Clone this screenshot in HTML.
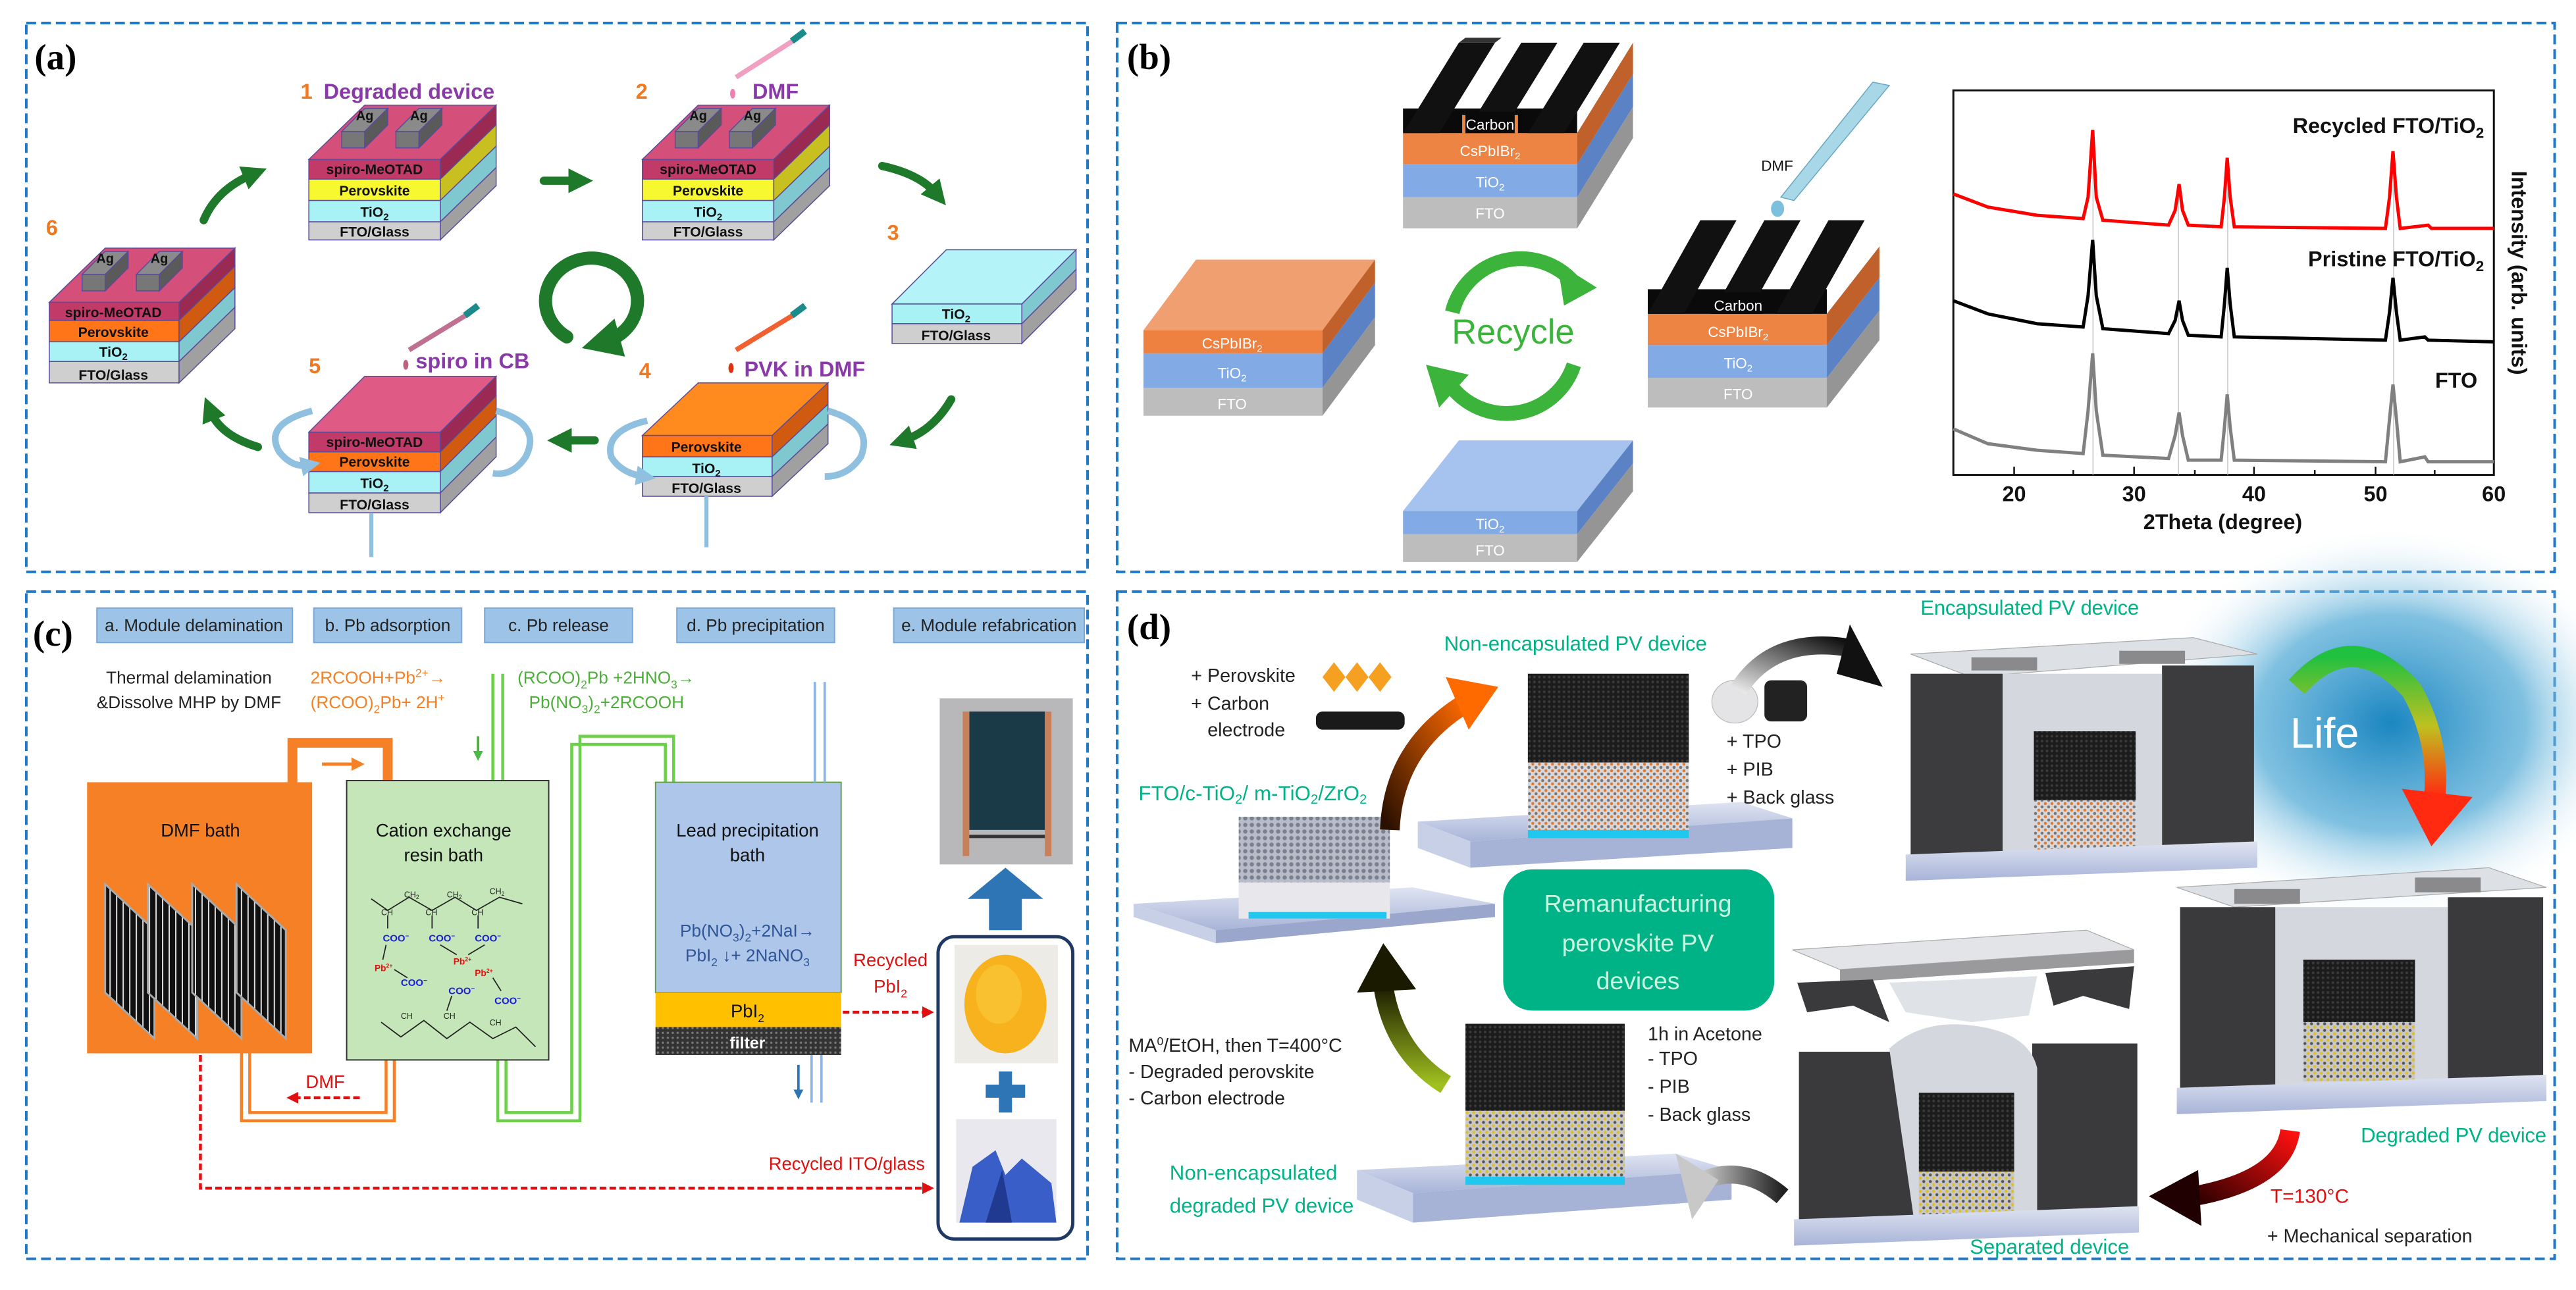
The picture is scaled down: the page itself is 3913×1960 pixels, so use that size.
<!DOCTYPE html>
<html><head><meta charset="utf-8"><style>
html,body{margin:0;padding:0;background:#fff;}
svg{display:block;}
text{font-family:"Liberation Sans",sans-serif;}
.sr{font-family:"Liberation Serif",serif;}
</style></head><body>
<svg width="3913" height="1960" viewBox="0 0 1568 785" preserveAspectRatio="none" xmlns="http://www.w3.org/2000/svg">
<defs>
<marker id="ga" markerWidth="3" markerHeight="3" refX="1.2" refY="1.5" orient="auto"><polygon points="0,0 3,1.5 0,3" fill="#1e7a2a"/></marker>
<marker id="ba" markerWidth="3" markerHeight="3" refX="1.2" refY="1.5" orient="auto"><polygon points="0,0 3,1.5 0,3" fill="#8fc0e0"/></marker>
<marker id="ra" markerWidth="4" markerHeight="4" refX="2" refY="2" orient="auto"><polygon points="0,0 4,2 0,4" fill="#e01010"/></marker>
<marker id="oa" markerWidth="4" markerHeight="4" refX="2" refY="2" orient="auto"><polygon points="0,0 4,2 0,4" fill="#f58025"/></marker>
<marker id="gra" markerWidth="4" markerHeight="4" refX="2" refY="2" orient="auto"><polygon points="0,0 4,2 0,4" fill="#4cb848"/></marker>
<marker id="bla" markerWidth="4" markerHeight="4" refX="2" refY="2" orient="auto"><polygon points="0,0 4,2 0,4" fill="#2e75b6"/></marker>
<radialGradient id="glow" cx="0.5" cy="0.5" r="0.5"><stop offset="0" stop-color="#1a86c0"/><stop offset="0.55" stop-color="#4aa6d4" stop-opacity="0.7"/><stop offset="1" stop-color="#ffffff" stop-opacity="0"/></radialGradient>
<linearGradient id="lifeg" x1="0" y1="0" x2="0" y2="1"><stop offset="0" stop-color="#20c040"/><stop offset="0.5" stop-color="#c0c020"/><stop offset="1" stop-color="#ff2a10"/></linearGradient>
<linearGradient id="orng" x1="0" y1="1" x2="1" y2="0"><stop offset="0" stop-color="#2a1000"/><stop offset="1" stop-color="#ff6a00"/></linearGradient>
<linearGradient id="redg" x1="1" y1="0" x2="0" y2="1"><stop offset="0" stop-color="#ff1010"/><stop offset="1" stop-color="#300000"/></linearGradient>
<linearGradient id="olvg" x1="0" y1="1" x2="0" y2="0"><stop offset="0" stop-color="#a0c020"/><stop offset="1" stop-color="#1a1a00"/></linearGradient>
<linearGradient id="gryg" x1="1" y1="0" x2="0" y2="0"><stop offset="0" stop-color="#202020"/><stop offset="1" stop-color="#e0e0e0"/></linearGradient>
<linearGradient id="blkg" x1="0" y1="1" x2="1" y2="0"><stop offset="0" stop-color="#e8e8e8"/><stop offset="1" stop-color="#101010"/></linearGradient>
<linearGradient id="slab" x1="0" y1="0" x2="0" y2="1"><stop offset="0" stop-color="#dfe4f2"/><stop offset="1" stop-color="#a8b4d8"/></linearGradient>
<pattern id="stripes" width="4" height="4" patternUnits="userSpaceOnUse"><rect width="4" height="4" fill="#111"/><rect x="2.6" width="0.8" height="4" fill="#ddd"/></pattern>
<pattern id="filt" width="3" height="3" patternUnits="userSpaceOnUse"><rect width="3" height="3" fill="#333"/><circle cx="1.5" cy="1.5" r="0.7" fill="#777"/></pattern>
<pattern id="blkdots" width="3" height="3" patternUnits="userSpaceOnUse"><rect width="3" height="3" fill="#1c1c1c"/><circle cx="1" cy="1" r="0.8" fill="#3a3a3a"/></pattern>
<pattern id="orgdots" width="4" height="4" patternUnits="userSpaceOnUse"><rect width="4" height="4" fill="#d8d8dc"/><circle cx="1" cy="1" r="0.9" fill="#e07a30"/><circle cx="3" cy="3" r="0.9" fill="#777"/></pattern>
<pattern id="ylwdots" width="4" height="4" patternUnits="userSpaceOnUse"><rect width="4" height="4" fill="#c8c8cc"/><circle cx="1" cy="1" r="0.9" fill="#e0c020"/><circle cx="3" cy="3" r="0.9" fill="#555"/></pattern>
<pattern id="grydots" width="4" height="4" patternUnits="userSpaceOnUse"><rect width="4" height="4" fill="#b8bcc8"/><circle cx="2" cy="2" r="1.3" fill="#7a8090"/></pattern>
</defs>

<!-- ============ PANEL BORDERS ============ -->
<g fill="none" stroke="#1f78c8" stroke-width="1.6" stroke-dasharray="6,3">
<rect x="16" y="14" width="646" height="334"/>
<rect x="680" y="14" width="875" height="334"/>
<rect x="16" y="360" width="646" height="406"/>
<rect x="680" y="360" width="875" height="406"/>
</g>

<!-- ============ PANEL A ============ -->
<text x="21" y="42" class="sr" font-size="22" font-weight="bold">(a)</text>
<g stroke="#5a4a9a" stroke-width="0.6">
<!-- Device 1 -->
<polygon points="188,97 268,97 302,64 222,64" fill="#d4507a"/>
<rect x="188" y="97" width="80" height="12" fill="#c23a68"/><rect x="188" y="109" width="80" height="13" fill="#f8f830"/><rect x="188" y="122" width="80" height="13" fill="#a8f2f6"/><rect x="188" y="135" width="80" height="11" fill="#cfcfcf"/>
<polygon points="268,97 302,64 302,76 268,109" fill="#9a2a52"/><polygon points="268,109 302,76 302,89 268,122" fill="#c8c020"/><polygon points="268,122 302,89 302,102 268,135" fill="#80c8d0"/><polygon points="268,135 302,102 302,113 268,146" fill="#a0a0a0"/>
<!-- Device 2 -->
<polygon points="391,97 471,97 505,64 425,64" fill="#d4507a"/>
<rect x="391" y="97" width="80" height="12" fill="#c23a68"/><rect x="391" y="109" width="80" height="13" fill="#f8f830"/><rect x="391" y="122" width="80" height="13" fill="#a8f2f6"/><rect x="391" y="135" width="80" height="11" fill="#cfcfcf"/>
<polygon points="471,97 505,64 505,76 471,109" fill="#9a2a52"/><polygon points="471,109 505,76 505,89 471,122" fill="#c8c020"/><polygon points="471,122 505,89 505,102 471,135" fill="#80c8d0"/><polygon points="471,135 505,102 505,113 471,146" fill="#a0a0a0"/>
<!-- Device 6 -->
<polygon points="30,184 109,184 143,151 64,151" fill="#d4507a"/>
<rect x="30" y="184" width="79" height="11" fill="#c23a68"/><rect x="30" y="195" width="79" height="13" fill="#ff7518"/><rect x="30" y="208" width="79" height="12" fill="#a8f2f6"/><rect x="30" y="220" width="79" height="13" fill="#cfcfcf"/>
<polygon points="109,184 143,151 143,162 109,195" fill="#9a2a52"/><polygon points="109,195 143,162 143,175 109,208" fill="#d05a10"/><polygon points="109,208 143,175 143,187 109,220" fill="#80c8d0"/><polygon points="109,220 143,187 143,200 109,233" fill="#a0a0a0"/>
<!-- Device 3 -->
<polygon points="543,185 622,185 655,152 576,152" fill="#b4f4f8"/>
<rect x="543" y="185" width="79" height="12" fill="#a8f2f6"/><rect x="543" y="197" width="79" height="12" fill="#cfcfcf"/>
<polygon points="622,185 655,152 655,164 622,197" fill="#80c8d0"/><polygon points="622,197 655,164 655,176 622,209" fill="#a0a0a0"/>
<!-- Device 5 -->
<polygon points="188,263 268,263 302,229 222,229" fill="#e05a86"/>
<rect x="188" y="263" width="80" height="12" fill="#c23a68"/><rect x="188" y="275" width="80" height="12" fill="#ff7518"/><rect x="188" y="287" width="80" height="13" fill="#a8f2f6"/><rect x="188" y="300" width="80" height="12" fill="#cfcfcf"/>
<polygon points="268,263 302,229 302,241 268,275" fill="#9a2a52"/><polygon points="268,275 302,241 302,253 268,287" fill="#d05a10"/><polygon points="268,287 302,253 302,266 268,300" fill="#80c8d0"/><polygon points="268,300 302,266 302,278 268,312" fill="#a0a0a0"/>
<!-- Device 4 -->
<polygon points="391,265 470,265 504,233 425,233" fill="#ff8a1e"/>
<rect x="391" y="265" width="79" height="13" fill="#ff7518"/><rect x="391" y="278" width="79" height="12" fill="#a8f2f6"/><rect x="391" y="290" width="79" height="12" fill="#cfcfcf"/>
<polygon points="470,265 504,233 504,246 470,278" fill="#d05a10"/><polygon points="470,278 504,246 504,258 470,290" fill="#80c8d0"/><polygon points="470,290 504,258 504,270 470,302" fill="#a0a0a0"/>
<!-- Ag pads -->
<g fill="#8a8a8a">
<polygon points="208,80 222,80 236,66 222,66"/><rect x="208" y="80" width="14" height="10" fill="#777"/><polygon points="222,80 236,66 236,76 222,90" fill="#5a5a5a"/>
<polygon points="241,80 255,80 269,66 255,66"/><rect x="241" y="80" width="14" height="10" fill="#777"/><polygon points="255,80 269,66 269,76 255,90" fill="#5a5a5a"/>
<polygon points="411,80 425,80 439,66 425,66"/><rect x="411" y="80" width="14" height="10" fill="#777"/><polygon points="425,80 439,66 439,76 425,90" fill="#5a5a5a"/>
<polygon points="444,80 458,80 472,66 458,66"/><rect x="444" y="80" width="14" height="10" fill="#777"/><polygon points="458,80 472,66 472,76 458,90" fill="#5a5a5a"/>
<polygon points="50,167 64,167 78,153 64,153"/><rect x="50" y="167" width="14" height="10" fill="#777"/><polygon points="64,167 78,153 78,163 64,177" fill="#5a5a5a"/>
<polygon points="83,167 97,167 111,153 97,153"/><rect x="83" y="167" width="14" height="10" fill="#777"/><polygon points="97,167 111,153 111,163 97,177" fill="#5a5a5a"/>
</g>
</g>
<g font-size="8" font-weight="bold" fill="#111">
<text x="222" y="73" text-anchor="middle">Ag</text><text x="255" y="73" text-anchor="middle">Ag</text>
<text x="425" y="73" text-anchor="middle">Ag</text><text x="458" y="73" text-anchor="middle">Ag</text>
<text x="64" y="160" text-anchor="middle">Ag</text><text x="97" y="160" text-anchor="middle">Ag</text>
</g>
<g font-size="8.5" font-weight="bold" fill="#111" text-anchor="middle">
<text x="228" y="106">spiro-MeOTAD</text><text x="228" y="119">Perovskite</text><text x="228" y="132">TiO<tspan font-size="6" dy="2">2</tspan></text><text x="228" y="144">FTO/Glass</text>
<text x="431" y="106">spiro-MeOTAD</text><text x="431" y="119">Perovskite</text><text x="431" y="132">TiO<tspan font-size="6" dy="2">2</tspan></text><text x="431" y="144">FTO/Glass</text>
<text x="69" y="193">spiro-MeOTAD</text><text x="69" y="205">Perovskite</text><text x="69" y="217">TiO<tspan font-size="6" dy="2">2</tspan></text><text x="69" y="231">FTO/Glass</text>
<text x="582" y="194">TiO<tspan font-size="6" dy="2">2</tspan></text><text x="582" y="207">FTO/Glass</text>
<text x="228" y="272">spiro-MeOTAD</text><text x="228" y="284">Perovskite</text><text x="228" y="297">TiO<tspan font-size="6" dy="2">2</tspan></text><text x="228" y="310">FTO/Glass</text>
<text x="430" y="275">Perovskite</text><text x="430" y="288">TiO<tspan font-size="6" dy="2">2</tspan></text><text x="430" y="300">FTO/Glass</text>
</g>
<!-- tubes -->
<line x1="226" y1="312" x2="226" y2="339" stroke="#8fc0e0" stroke-width="2.5"/>
<line x1="430" y1="302" x2="430" y2="333" stroke="#8fc0e0" stroke-width="2.5"/>
<!-- pipettes -->
<line x1="448" y1="47" x2="484" y2="24" stroke="#f0a0c0" stroke-width="3"/><line x1="482" y1="25" x2="490" y2="19" stroke="#1a8a8a" stroke-width="4"/><ellipse cx="446" cy="57" rx="1.6" ry="3" fill="#f080b0"/>
<line x1="448" y1="213" x2="484" y2="191" stroke="#f06030" stroke-width="3"/><line x1="482" y1="192" x2="490" y2="186" stroke="#1a8a8a" stroke-width="4"/><ellipse cx="445" cy="224" rx="1.6" ry="3" fill="#e03010"/>
<line x1="249" y1="213" x2="285" y2="191" stroke="#c07090" stroke-width="3"/><line x1="283" y1="192" x2="291" y2="186" stroke="#1a8a8a" stroke-width="4"/><ellipse cx="247" cy="222" rx="1.6" ry="3" fill="#c06080"/>
<!-- labels -->
<g font-size="13" font-weight="bold">
<text x="183" y="60" fill="#f07820">1</text><text x="197" y="60" fill="#8a3aa8">Degraded device</text>
<text x="387" y="60" fill="#f07820">2</text><text x="458" y="60" fill="#8a3aa8">DMF</text>
<text x="540" y="146" fill="#f07820">3</text>
<text x="389" y="230" fill="#f07820">4</text><text x="453" y="229" fill="#8a3aa8">PVK in DMF</text>
<text x="188" y="227" fill="#f07820">5</text><text x="253" y="224" fill="#8a3aa8">spiro in CB</text>
<text x="28" y="143" fill="#f07820">6</text>
</g>
<!-- green arrows -->
<g fill="none" stroke="#1e7a2a" stroke-width="5" stroke-linecap="round">
<path d="M124,134 Q132,115 154,106" marker-end="url(#ga)"/>
<path d="M331,110 L352,110" marker-end="url(#ga)"/>
<path d="M537,101 Q560,106 570,118" marker-end="url(#ga)"/>
<path d="M579,243 Q568,262 550,268" marker-end="url(#ga)"/>
<path d="M362,268 L342,268" marker-end="url(#ga)"/>
<path d="M157,272 Q134,265 128,250" marker-end="url(#ga)"/>
<path d="M345,205 A28,26 0 1 1 368,208" stroke-width="8" marker-end="url(#ga)"/>
</g>
<!-- rotation arrows -->
<g fill="none" stroke="#8fc0e0" stroke-width="4">
<path d="M190,250 Q160,258 170,275 Q178,285 188,283" marker-end="url(#ba)"/>
<path d="M302,250 Q330,258 320,278 Q312,290 300,288"/>
<path d="M394,256 Q368,262 372,278 Q378,288 392,290" marker-end="url(#ba)"/>
<path d="M504,250 Q532,258 524,278 Q516,290 502,290"/>
</g>

<!-- ============ PANEL B ============ -->
<text x="686" y="42" class="sr" font-size="22" font-weight="bold">(b)</text>
<g font-family="Liberation Serif,serif">
<!-- top stack -->
<rect x="854" y="81" width="106" height="19" fill="#ee8444"/><rect x="854" y="100" width="106" height="20" fill="#82aae4"/><rect x="854" y="120" width="106" height="19" fill="#bdbdbd"/>
<polygon points="960,81 994,26 994,45 960,100" fill="#c0602a"/><polygon points="960,100 994,45 994,65 960,120" fill="#5a82c4"/><polygon points="960,120 994,65 994,84 960,139" fill="#959595"/>
<rect x="854" y="66" width="106" height="15" fill="#0a0a0a"/>
<polygon points="854,81 876,81 910,26 888,26" fill="#111"/><polygon points="892,81 914,81 948,26 926,26" fill="#111"/><polygon points="930,81 952,81 986,26 964,26" fill="#111"/>
<polygon points="888,26 910,26 914,23 892,23" fill="#333"/>
<rect x="890" y="70" width="34" height="11" fill="#ee8444"/><rect x="892" y="68" width="30" height="13" fill="#0a0a0a"/>
<text x="907" y="79" font-size="9" fill="#fff" text-anchor="middle">Carbon</text>
<text x="907" y="95" font-size="9" fill="#fff" text-anchor="middle">CsPbIBr<tspan font-size="6" dy="2">2</tspan></text>
<text x="907" y="114" font-size="9" fill="#fff" text-anchor="middle">TiO<tspan font-size="6" dy="2">2</tspan></text>
<text x="907" y="133" font-size="9" fill="#fff" text-anchor="middle">FTO</text>
<!-- left stack -->
<polygon points="696,201 805,201 837,158 728,158" fill="#f0a070"/>
<rect x="696" y="201" width="109" height="14" fill="#ee8040"/><rect x="696" y="215" width="109" height="21" fill="#82aae4"/><rect x="696" y="236" width="109" height="17" fill="#bdbdbd"/>
<polygon points="805,201 837,158 837,172 805,215" fill="#c0602a"/><polygon points="805,215 837,172 837,193 805,236" fill="#5a82c4"/><polygon points="805,236 837,193 837,210 805,253" fill="#959595"/>
<text x="750" y="212" font-size="9" fill="#fff" text-anchor="middle">CsPbIBr<tspan font-size="6" dy="2">2</tspan></text>
<text x="750" y="230" font-size="9" fill="#fff" text-anchor="middle">TiO<tspan font-size="6" dy="2">2</tspan></text>
<text x="750" y="249" font-size="9" fill="#fff" text-anchor="middle">FTO</text>
<!-- right stack -->
<rect x="1003" y="191" width="109" height="19" fill="#ee8444"/><rect x="1003" y="210" width="109" height="20" fill="#82aae4"/><rect x="1003" y="230" width="109" height="18" fill="#bdbdbd"/>
<polygon points="1112,191 1144,150 1144,169 1112,210" fill="#c0602a"/><polygon points="1112,210 1144,169 1144,189 1112,230" fill="#5a82c4"/><polygon points="1112,230 1144,189 1144,207 1112,248" fill="#959595"/>
<rect x="1003" y="176" width="109" height="15" fill="#0a0a0a"/>
<polygon points="1003,191 1025,191 1057,134 1035,134" fill="#111"/><polygon points="1042,191 1064,191 1096,134 1074,134" fill="#111"/><polygon points="1081,191 1103,191 1135,134 1113,134" fill="#111"/>
<rect x="1041" y="178" width="32" height="13" fill="#0a0a0a"/>
<text x="1058" y="189" font-size="9" fill="#fff" text-anchor="middle">Carbon</text>
<text x="1058" y="205" font-size="9" fill="#fff" text-anchor="middle">CsPbIBr<tspan font-size="6" dy="2">2</tspan></text>
<text x="1058" y="224" font-size="9" fill="#fff" text-anchor="middle">TiO<tspan font-size="6" dy="2">2</tspan></text>
<text x="1058" y="243" font-size="9" fill="#fff" text-anchor="middle">FTO</text>
<!-- bottom stack -->
<polygon points="854,311 960,311 994,268 888,268" fill="#a6c2ee"/>
<rect x="854" y="311" width="106" height="14" fill="#82aae4"/><rect x="854" y="325" width="106" height="17" fill="#bdbdbd"/>
<polygon points="960,311 994,268 994,282 960,325" fill="#5a82c4"/><polygon points="960,325 994,282 994,299 960,342" fill="#959595"/>
<text x="907" y="322" font-size="9" fill="#fff" text-anchor="middle">TiO<tspan font-size="6" dy="2">2</tspan></text>
<text x="907" y="338" font-size="9" fill="#fff" text-anchor="middle">FTO</text>
<!-- pipette -->
<polygon points="1140,50 1150,52 1092,122 1084,120" fill="#a8d8e8" stroke="#6aa8c0" stroke-width="0.6"/>
<ellipse cx="1082" cy="127" rx="4" ry="5" fill="#7cc0dc"/>
<text x="1072" y="104" font-size="9" fill="#111">DMF</text>
<!-- recycle -->
<path d="M884,190 A43,43 0 0 1 958,172" fill="none" stroke="#3cb43c" stroke-width="9"/>
<path d="M958,222 A43,43 0 0 1 884,236" fill="none" stroke="#3cb43c" stroke-width="9"/>
<polygon points="948,160 972,175 952,186" fill="#3cb43c"/>
<polygon points="876,248 868,222 894,228" fill="#3cb43c"/>
<text x="921" y="209" font-size="21" fill="#3cb43c" text-anchor="middle">Recycle</text>
</g>
<!-- XRD -->
<rect x="1189" y="55" width="329" height="234" fill="none" stroke="#111" stroke-width="1.2"/>
<g stroke="#bbb" stroke-width="0.5"><line x1="1274" y1="80" x2="1274" y2="289"/><line x1="1326" y1="112" x2="1326" y2="289"/><line x1="1356" y1="96" x2="1356" y2="289"/><line x1="1457" y1="92" x2="1457" y2="289"/></g>
<g stroke="#111" stroke-width="1"><line x1="1226" y1="289" x2="1226" y2="284"/><line x1="1299" y1="289" x2="1299" y2="284"/><line x1="1372" y1="289" x2="1372" y2="284"/><line x1="1446" y1="289" x2="1446" y2="284"/><line x1="1262" y1="289" x2="1262" y2="286"/><line x1="1336" y1="289" x2="1336" y2="286"/><line x1="1409" y1="289" x2="1409" y2="286"/><line x1="1482" y1="289" x2="1482" y2="286"/></g>
<path d="M1189,118 L1210,126 L1240,131 L1268,133 L1271,120 L1273.8,79 L1276,120 L1280,134 L1320,137 L1324,128 L1326.4,112 L1328.5,128 L1332,137 L1352,138 L1354,120 L1355.7,96 L1357.5,120 L1360,138 L1452,139 L1454.5,120 L1456.6,92 L1458.7,120 L1461,139 L1478,137 L1480,139 L1518,139" fill="none" stroke="#ff0000" stroke-width="2"/>
<path d="M1189,183 L1210,191 L1240,197 L1268,199 L1271,180 L1273.8,146 L1276,180 L1280,200 L1320,203 L1324,195 L1326.4,183 L1328.5,195 L1332,204 L1352,205 L1354,185 L1355.7,163 L1357.5,185 L1360,205 L1452,207 L1454.5,190 L1456.6,169 L1458.7,190 L1461,207 L1476,205 L1478,207 L1518,208" fill="none" stroke="#000" stroke-width="2"/>
<path d="M1189,261 L1210,270 L1240,274 L1268,276 L1271,250 L1273.8,215 L1276,250 L1280,277 L1320,279 L1324,265 L1326.4,251 L1328.5,265 L1332,280 L1352,280 L1354,260 L1355.7,240 L1357.5,260 L1360,280 L1452,281 L1454.5,255 L1456.6,234 L1458.7,255 L1461,281 L1476,278 L1478,281 L1518,281" fill="none" stroke="#808080" stroke-width="2"/>
<g font-size="13" font-weight="bold" text-anchor="end" fill="#111">
<text x="1512" y="81">Recycled FTO/TiO<tspan font-size="9" dy="3">2</tspan></text>
<text x="1512" y="162">Pristine FTO/TiO<tspan font-size="9" dy="3">2</tspan></text>
<text x="1508" y="236">FTO</text>
</g>
<g font-size="13" font-weight="bold" text-anchor="middle" fill="#111">
<text x="1226" y="305">20</text><text x="1299" y="305">30</text><text x="1372" y="305">40</text><text x="1446" y="305">50</text><text x="1518" y="305">60</text>
<text x="1353" y="322">2Theta (degree)</text>
<text transform="translate(1529,166) rotate(90)" x="0" y="0">Intensity (arb. units)</text>
</g>

<!-- ============ PANEL C ============ -->
<text x="20" y="393" class="sr" font-size="22" font-weight="bold">(c)</text>
<g fill="#9dc3e6" stroke="#7aa8d8" stroke-width="0.8">
<rect x="59" y="370" width="119" height="21"/><rect x="191" y="370" width="90" height="21"/><rect x="295" y="370" width="90" height="21"/><rect x="412" y="370" width="96" height="21"/><rect x="544" y="370" width="116" height="21"/>
</g>
<g font-size="10.5" fill="#222" text-anchor="middle">
<text x="118" y="384">a. Module delamination</text><text x="236" y="384">b. Pb adsorption</text><text x="340" y="384">c. Pb release</text><text x="460" y="384">d. Pb precipitation</text><text x="602" y="384">e. Module refabrication</text>
<text x="115" y="416">Thermal delamination</text><text x="115" y="431">&amp;Dissolve MHP by DMF</text>
</g>
<g font-size="10.5" fill="#f58025"><text x="189" y="416">2RCOOH+Pb<tspan font-size="7" dy="-4">2+</tspan><tspan dy="4">→</tspan></text><text x="189" y="431">(RCOO)<tspan font-size="7" dy="3">2</tspan><tspan dy="-3">Pb+ 2H</tspan><tspan font-size="7" dy="-4">+</tspan></text></g>
<g font-size="10.5" fill="#4caf3a"><text x="315" y="416">(RCOO)<tspan font-size="7" dy="3">2</tspan><tspan dy="-3">Pb +2HNO</tspan><tspan font-size="7" dy="3">3</tspan><tspan dy="-3">→</tspan></text><text x="322" y="431">Pb(NO<tspan font-size="7" dy="3">3</tspan><tspan dy="-3">)</tspan><tspan font-size="7" dy="3">2</tspan><tspan dy="-3">+2RCOOH</tspan></text></g>
<!-- orange pipes -->
<path d="M178,476 L178,452 L236,452 L236,476" fill="none" stroke="#f58025" stroke-width="6"/>
<line x1="196" y1="465" x2="218" y2="465" stroke="#f58025" stroke-width="2" marker-end="url(#oa)"/>
<path d="M147,641 L147,682 L240,682 L240,645" fill="none" stroke="#f58025" stroke-width="1.8"/>
<path d="M152,641 L152,677 L235,677 L235,645" fill="none" stroke="#f58025" stroke-width="1.8"/>
<!-- DMF bath -->
<rect x="53" y="476" width="137" height="165" fill="#f58025"/>
<text x="122" y="509" font-size="11" fill="#111" text-anchor="middle">DMF bath</text>
<g stroke="#aaa" stroke-width="1.2">
<polygon points="64,538 94,566 94,632 64,604" fill="url(#stripes)"/>
<polygon points="90,538 120,566 120,632 90,604" fill="url(#stripes)"/>
<polygon points="117,538 147,566 147,632 117,604" fill="url(#stripes)"/>
<polygon points="144,538 174,566 174,632 144,604" fill="url(#stripes)"/>
</g>
<text x="198" y="662" font-size="11" fill="#e01010" text-anchor="middle">DMF</text>
<line x1="219" y1="668" x2="178" y2="668" stroke="#e01010" stroke-width="1.8" stroke-dasharray="4,2" marker-end="url(#ra)"/>
<!-- green pipes -->
<line x1="300" y1="410" x2="300" y2="476" stroke="#6cd04a" stroke-width="1.8"/><line x1="306" y1="410" x2="306" y2="476" stroke="#6cd04a" stroke-width="1.8"/>
<line x1="291" y1="448" x2="291" y2="460" stroke="#4caf3a" stroke-width="1.5" marker-end="url(#gra)"/>
<path d="M303,645 L303,682 L353,682 L353,448 L410,448 L410,476" fill="none" stroke="#6cd04a" stroke-width="1.8"/>
<path d="M308,645 L308,677 L348,677 L348,453 L405,453 L405,476" fill="none" stroke="#6cd04a" stroke-width="1.8"/>
<!-- cation box -->
<rect x="211" y="475" width="123" height="170" fill="#c5e6b8" stroke="#333" stroke-width="0.8"/>
<text x="270" y="509" font-size="11" text-anchor="middle" fill="#111">Cation exchange</text>
<text x="270" y="524" font-size="11" text-anchor="middle" fill="#111">resin bath</text>
<g fill="none" stroke="#222" stroke-width="0.7">
<polyline points="226,547 236,554 249,546 263,554 277,546 290,554 304,546 318,550"/>
<line x1="236" y1="557" x2="236" y2="565"/><line x1="263" y1="557" x2="263" y2="565"/><line x1="291" y1="557" x2="291" y2="565"/>
<line x1="235" y1="575" x2="233" y2="584"/><line x1="268" y1="575" x2="278" y2="581"/><line x1="295" y1="575" x2="285" y2="581"/>
<line x1="240" y1="590" x2="248" y2="595"/><line x1="300" y1="595" x2="305" y2="603"/><line x1="275" y1="606" x2="272" y2="615"/>
<polyline points="232,622 244,631 258,621 272,632 286,622 300,632 314,625 326,637"/>
</g>
<g font-size="5" fill="#222"><text x="246" y="546">CH<tspan font-size="3.5" dy="1">2</tspan></text><text x="272" y="546">CH<tspan font-size="3.5" dy="1">2</tspan></text><text x="298" y="544">CH<tspan font-size="3.5" dy="1">2</tspan></text><text x="232" y="557">CH</text><text x="259" y="557">CH</text><text x="287" y="557">CH</text><text x="244" y="620">CH</text><text x="270" y="620">CH</text><text x="298" y="624">CH</text></g>
<g font-size="6" fill="#1a1ae0" font-weight="bold"><text x="233" y="573">COO<tspan font-size="4" dy="-2">−</tspan></text><text x="261" y="573">COO<tspan font-size="4" dy="-2">−</tspan></text><text x="289" y="573">COO<tspan font-size="4" dy="-2">−</tspan></text><text x="244" y="600">COO<tspan font-size="4" dy="-2">−</tspan></text><text x="273" y="605">COO<tspan font-size="4" dy="-2">−</tspan></text><text x="301" y="611">COO<tspan font-size="4" dy="-2">−</tspan></text></g>
<g font-size="5.5" fill="#e01010" font-weight="bold"><text x="276" y="587">Pb<tspan font-size="3.5" dy="-2">2+</tspan></text><text x="228" y="591">Pb<tspan font-size="3.5" dy="-2">2+</tspan></text><text x="289" y="594">Pb<tspan font-size="3.5" dy="-2">2+</tspan></text></g>
<!-- lead box -->
<rect x="399" y="476" width="113" height="128" fill="#adc6ea" stroke="#5a9a3a" stroke-width="0.7"/>
<rect x="399" y="604" width="113" height="21" fill="#ffc000"/>
<rect x="399" y="625" width="113" height="17" fill="url(#filt)"/>
<text x="455" y="509" font-size="11" text-anchor="middle" fill="#111">Lead precipitation</text>
<text x="455" y="524" font-size="11" text-anchor="middle" fill="#111">bath</text>
<text x="455" y="570" font-size="10.5" text-anchor="middle" fill="#2f5597">Pb(NO<tspan font-size="7" dy="3">3</tspan><tspan dy="-3">)</tspan><tspan font-size="7" dy="3">2</tspan><tspan dy="-3">+2NaI→</tspan></text>
<text x="455" y="585" font-size="10.5" text-anchor="middle" fill="#2f5597">PbI<tspan font-size="7" dy="3">2</tspan><tspan dy="-3"> ↓+ 2NaNO</tspan><tspan font-size="7" dy="3">3</tspan></text>
<text x="455" y="619" font-size="11" text-anchor="middle" fill="#111">PbI<tspan font-size="7" dy="3">2</tspan></text>
<text x="455" y="638" font-size="10" font-weight="bold" text-anchor="middle" fill="#fff">filter</text>
<g stroke="#8fb4e6" stroke-width="1.5"><line x1="496" y1="415" x2="496" y2="476"/><line x1="502" y1="415" x2="502" y2="476"/><line x1="494" y1="642" x2="494" y2="671"/><line x1="500" y1="642" x2="500" y2="671"/></g>
<line x1="486" y1="648" x2="486" y2="666" stroke="#2e75b6" stroke-width="1.5" marker-end="url(#bla)"/>
<!-- red recycled -->
<text x="542" y="588" font-size="11" fill="#e01010" text-anchor="middle">Recycled</text>
<text x="542" y="604" font-size="11" fill="#e01010" text-anchor="middle">PbI<tspan font-size="7" dy="3">2</tspan></text>
<line x1="513" y1="616" x2="565" y2="616" stroke="#e01010" stroke-width="1.8" stroke-dasharray="4,2" marker-end="url(#ra)"/>
<polyline points="122,642 122,723 565,723" fill="none" stroke="#e01010" stroke-width="1.8" stroke-dasharray="4,2" marker-end="url(#ra)"/>
<text x="563" y="712" font-size="11" fill="#e01010" text-anchor="end">Recycled ITO/glass</text>
<!-- right photos -->
<rect x="572" y="425" width="81" height="101" fill="#b8b8ba"/>
<rect x="590" y="433" width="46" height="72" fill="#1a3a48"/>
<rect x="586" y="433" width="4" height="88" fill="#c8805a"/><rect x="636" y="433" width="4" height="88" fill="#c8805a"/>
<rect x="590" y="508" width="46" height="2" fill="#333"/>
<polygon points="602,566 602,547 589,547 612,528 635,547 622,547 622,566" fill="#2e75b6"/>
<rect x="571" y="570" width="82" height="184" rx="10" fill="none" stroke="#1f3864" stroke-width="2"/>
<rect x="581" y="575" width="63" height="72" fill="#ecebe6"/>
<ellipse cx="612" cy="611" rx="25" ry="30" fill="#f7b21e"/>
<ellipse cx="608" cy="605" rx="14" ry="18" fill="#f9c030"/>
<rect x="608" y="652" width="8" height="25" fill="#2e75b6"/><rect x="600" y="660" width="24" height="8" fill="#2e75b6"/>
<rect x="582" y="681" width="61" height="63" fill="#e8e8ee"/>
<path d="M584,744 L592,710 L606,700 L612,715 L622,705 L640,720 L643,744 Z" fill="#3a5ec8"/>
<path d="M600,744 L610,712 L616,744 Z" fill="#1f3a90"/>

<!-- ============ PANEL D ============ -->
<ellipse cx="1455" cy="440" rx="150" ry="120" fill="url(#glow)"/>
<text x="686" y="389" class="sr" font-size="22" font-weight="bold">(d)</text>
<g font-size="12.5" fill="#00b386">
<text x="879" y="396" textLength="160">Non-encapsulated PV device</text>
<text x="1169" y="374" textLength="133">Encapsulated PV device</text>
<text x="693" y="487" textLength="139">FTO/c-TiO<tspan font-size="8" dy="2">2</tspan><tspan dy="-2">/ m-TiO</tspan><tspan font-size="8" dy="2">2</tspan><tspan dy="-2">/ZrO</tspan><tspan font-size="8" dy="2">2</tspan></text>
<text x="1437" y="695" textLength="113">Degraded PV device</text>
<text x="1199" y="763" textLength="97">Separated device</text>
<text x="712" y="718" textLength="102">Non-encapsulated</text>
<text x="712" y="738" textLength="112">degraded PV device</text>
</g>
<g font-size="11.5" fill="#222">
<text x="725" y="415">+ Perovskite</text><text x="725" y="432">+ Carbon</text><text x="735" y="448">electrode</text>
<text x="1051" y="455">+ TPO</text><text x="1051" y="472">+ PIB</text><text x="1051" y="489">+ Back glass</text>
<text x="1003" y="633">1h in Acetone</text><text x="1003" y="648">-  TPO</text><text x="1003" y="665">-  PIB</text><text x="1003" y="682">-  Back glass</text>
<text x="687" y="640">MA<tspan font-size="7" dy="-4">0</tspan><tspan dy="4">/EtOH, then T=400°C</tspan></text>
<text x="687" y="656">-  Degraded perovskite</text><text x="687" y="672">-  Carbon electrode</text>
<text x="1380" y="756">+ Mechanical separation</text>
</g>
<text x="1382" y="732" font-size="12" fill="#e01010">T=130°C</text>
<!-- diamonds + carbon bar -->
<g fill="#f5a020"><polygon points="812,403 819,412 812,421 805,412"/><polygon points="826,403 833,412 826,421 819,412"/><polygon points="840,403 847,412 840,421 833,412"/></g>
<rect x="801" y="433" width="54" height="11" rx="4" fill="#1a1a1a"/>
<!-- left slab + porous block -->
<polygon points="690,550 860,540 910,550 740,566" fill="url(#slab)"/>
<polygon points="740,566 910,550 910,558 740,574" fill="#9aa6cc"/><polygon points="690,550 740,566 740,574 690,558" fill="#c8d0e8"/>
<rect x="754" y="497" width="92" height="40" fill="url(#grydots)"/>
<rect x="754" y="537" width="92" height="22" fill="#e8e8ec"/>
<rect x="760" y="555" width="84" height="4" fill="#20c8f0"/>
<!-- middle device -->
<polygon points="863,500 1060,488 1091,498 895,512" fill="url(#slab)"/>
<polygon points="895,512 1091,498 1091,516 895,528" fill="#a6b2d6"/><polygon points="863,500 895,512 895,528 863,516" fill="#c8d0e8"/>
<rect x="930" y="410" width="98" height="54" fill="url(#blkdots)"/>
<rect x="930" y="464" width="98" height="46" fill="url(#orgdots)"/>
<rect x="930" y="505" width="98" height="5" fill="#20c8f0"/>
<ellipse cx="1056" cy="427" rx="14" ry="13" fill="#e4e4e6" stroke="#bbb" stroke-width="0.5"/>
<rect x="1074" y="414" width="26" height="25" rx="4" fill="#222"/>
<!-- encapsulated device -->
<polygon points="1163,398 1335,388 1374,398 1200,412" fill="#dde0e4" stroke="#aaa" stroke-width="0.5"/>
<rect x="1163" y="410" width="56" height="112" fill="#3c3c3e"/><rect x="1316" y="405" width="56" height="110" fill="#3c3c3e"/>
<rect x="1219" y="410" width="97" height="110" fill="#d4d8de"/>
<rect x="1238" y="445" width="62" height="42" fill="url(#blkdots)"/>
<rect x="1238" y="487" width="62" height="30" fill="url(#orgdots)"/>
<polygon points="1160,520 1374,512 1374,528 1160,536" fill="url(#slab)"/>
<rect x="1200" y="400" width="40" height="8" fill="#8a8a8c"/><rect x="1290" y="396" width="40" height="8" fill="#8a8a8c"/>
<!-- degraded device -->
<polygon points="1325,540 1515,528 1550,540 1360,552" fill="#dde0e4" stroke="#aaa" stroke-width="0.5"/>
<rect x="1327" y="552" width="58" height="112" fill="#3a3a3c"/><rect x="1490" y="546" width="58" height="112" fill="#3a3a3c"/>
<rect x="1385" y="552" width="105" height="108" fill="#d4d8de"/>
<rect x="1402" y="584" width="68" height="38" fill="url(#blkdots)"/>
<rect x="1402" y="622" width="68" height="36" fill="url(#ylwdots)"/>
<polygon points="1325,662 1550,654 1550,670 1325,678" fill="url(#slab)"/>
<rect x="1360" y="541" width="40" height="9" fill="#8a8a8c"/><rect x="1470" y="534" width="40" height="9" fill="#8a8a8c"/>
<!-- separated upper -->
<polygon points="1091,578 1270,566 1299,578 1120,590" fill="#e2e4e8" stroke="#aaa" stroke-width="0.5"/>
<polygon points="1120,590 1299,578 1299,586 1120,598" fill="#9a9a9c"/>
<path d="M1094,598 L1140,596 L1150,622 L1128,612 L1100,616 Z" fill="#3a3a3c"/>
<path d="M1245,592 L1299,588 L1296,614 L1268,606 L1250,612 Z" fill="#3a3a3c"/>
<path d="M1150,598 L1240,594 L1235,618 L1200,622 L1160,616 Z" fill="#dfe2e6"/>
<!-- separated lower -->
<rect x="1095" y="640" width="72" height="105" fill="#3a3a3c"/><rect x="1237" y="635" width="64" height="105" fill="#3a3a3c"/>
<path d="M1150,638 Q1170,620 1200,624 Q1235,628 1240,650 L1240,740 L1165,742 Z" fill="#d4d8de"/>
<rect x="1168" y="665" width="58" height="48" fill="url(#blkdots)"/>
<rect x="1168" y="713" width="58" height="30" fill="url(#ylwdots)"/>
<polygon points="1092,742 1302,734 1302,750 1092,758" fill="url(#slab)"/>
<!-- bottom-left device -->
<polygon points="826,712 1020,702 1054,712 860,726" fill="url(#slab)"/>
<polygon points="860,726 1054,712 1054,730 860,744" fill="#a6b2d6"/><polygon points="826,712 860,726 860,744 826,730" fill="#c8d0e8"/>
<rect x="892" y="623" width="97" height="53" fill="url(#blkdots)"/>
<rect x="892" y="676" width="97" height="45" fill="url(#ylwdots)"/>
<rect x="892" y="716" width="97" height="5" fill="#20c8f0"/>
<!-- remanufacturing box -->
<rect x="915" y="529" width="165" height="86" rx="18" fill="#00b386"/>
<g font-size="15" fill="#c8f4e0" text-anchor="middle"><text x="997" y="555">Remanufacturing</text><text x="997" y="579">perovskite PV</text><text x="997" y="602">devices</text></g>
<!-- big arrows -->
<path d="M846,505 Q848,455 892,428" fill="none" stroke="url(#orng)" stroke-width="12"/>
<polygon points="880,412 912,418 894,444" fill="#ff6a00"/>
<path d="M1058,420 Q1080,385 1130,395" fill="none" stroke="url(#blkg)" stroke-width="11"/>
<polygon points="1126,380 1146,418 1118,410" fill="#111"/>
<path d="M1398,418 Q1432,380 1468,420 Q1485,450 1482,485" fill="none" stroke="url(#lifeg)" stroke-width="13"/>
<polygon points="1462,480 1505,485 1480,515" fill="#ff2a10"/>
<text x="1415" y="455" font-size="26" fill="#fff" text-anchor="middle">Life</text>
<path d="M1394,688 Q1390,718 1335,728" fill="none" stroke="url(#redg)" stroke-width="12"/>
<polygon points="1338,712 1308,728 1340,746" fill="#200000"/>
<path d="M1085,728 Q1058,705 1030,722" fill="none" stroke="url(#gryg)" stroke-width="11"/>
<polygon points="1020,702 1030,742 1046,718" fill="#c8c8c8"/>
<path d="M880,660 Q848,640 842,600" fill="none" stroke="url(#olvg)" stroke-width="12"/>
<polygon points="826,604 842,574 862,602" fill="#1a1a00"/>
</svg>
</body></html>
